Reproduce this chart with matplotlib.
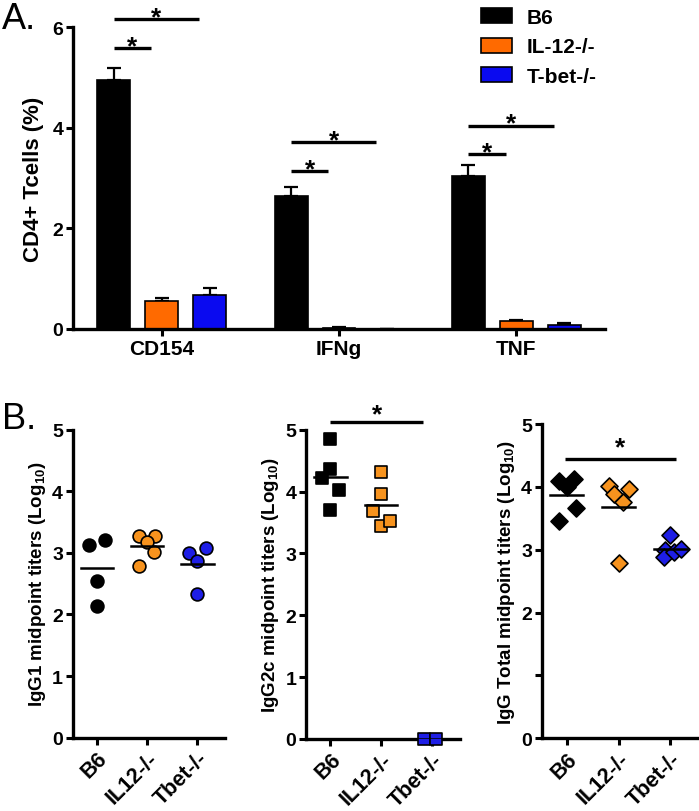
import numpy as np
import matplotlib
matplotlib.use("Agg")
import matplotlib.pyplot as plt
from matplotlib.patches import Patch

plt.rcParams['font.family'] = ['Liberation Sans', 'DejaVu Sans']
plt.rcParams['font.weight'] = 'bold'
plt.rcParams['mathtext.fontset'] = 'custom'
plt.rcParams['mathtext.rm'] = 'Liberation Sans:bold'
plt.rcParams['mathtext.default'] = 'rm'

# ---- Panel A data ----
groups = ['B6', 'IL-12-/-', 'T-bet-/-']
cytokines = ['CD154', 'IFNg', 'TNF']
bar_means = {
    'B6':       [4.95, 2.64, 3.03],
    'IL-12-/-': [0.56, 0.02, 0.15],
    'T-bet-/-': [0.68, 0.00, 0.07],
}
bar_sem = {
    'B6':       [0.24, 0.18, 0.22],
    'IL-12-/-': [0.05, 0.02, 0.02],
    'T-bet-/-': [0.14, 0.00, 0.05],
}
# significance bars: (cytokine index, from group, to group, height)
sig_a = [(0, 0, 1, 5.58), (0, 0, 2, 6.16),
         (1, 0, 1, 3.13), (1, 0, 2, 3.71),
         (2, 0, 1, 3.47), (2, 0, 2, 4.04)]
yticks_a = [0, 2, 4, 6]

# ---- Panel B data ----
strains = ['B6', 'IL12-/-', 'Tbet-/-']
yticks_b = [0, 1, 2, 3, 4, 5]
igg1 = [[3.12, 3.21, 2.55, 2.14],
        [3.28, 3.28, 3.18, 3.02, 2.79],
        [3.00, 3.08, 2.87, 2.34]]
igg1_dx = [[-0.15, 0.17, 0.0, 0.0],
           [-0.17, 0.15, 0.0, 0.14, -0.17],
           [-0.17, 0.17, 0.0, 0.0]]
igg2c = [[4.85, 4.22, 4.36, 4.02, 3.70],
         [4.31, 3.96, 3.69, 3.45, 3.52],
         [0.0, 0.0]]
igg2c_dx = [[0.0, -0.16, 0.0, 0.16, 0.0],
            [0.0, 0.0, -0.17, 0.0, 0.17],
            [-0.15, 0.08]]
iggt = [[4.09, 4.13, 4.00, 3.66, 3.46],
        [4.01, 3.88, 3.97, 3.76, 2.79],
        [3.24, 3.00, 2.88, 2.96, 3.01]]
iggt_dx = [[-0.14, 0.15, 0.0, 0.18, -0.15],
           [-0.18, -0.08, 0.2, 0.08, 0.0],
           [0.0, -0.1, -0.13, 0.07, 0.2]]

col_a = {'B6': 'black', 'IL-12-/-': '#FF6A00', 'T-bet-/-': '#0A0AF0'}
col_b = ['black', '#F7931E', '#1E1EE6']

fig = plt.figure(figsize=(6.99, 8.12), dpi=100)


def style_axis(ax):
    for s in ['top', 'right']:
        ax.spines[s].set_visible(False)
    for s in ['left', 'bottom']:
        ax.spines[s].set_linewidth(2.4)
    ax.tick_params(width=2.2, length=5, pad=2)


def star(ax, x, h, dy):
    ax.annotate('*', (x, h), xytext=(0, dy), textcoords='offset points',
                ha='center', va='baseline', fontsize=19, fontweight='bold',
                annotation_clip=False)


# ---------------- Panel A ----------------
axA = fig.add_axes([0.1044, 0.5936, 0.7611, 0.3719])
xg = np.arange(len(cytokines))
offs = [-0.27, 0.0, 0.27]
w = 0.185
for i, g in enumerate(groups):
    axA.bar(xg + offs[i], bar_means[g], width=w, color=col_a[g],
            edgecolor='black', linewidth=1.2, zorder=2)
    axA.errorbar(xg + offs[i], bar_means[g],
                 yerr=[np.zeros(3), bar_sem[g]], fmt='none',
                 ecolor='black', elinewidth=1.6, capsize=5, capthick=1.6,
                 zorder=1)
for ci, g1, g2, h in sig_a:
    x1 = ci + offs[g1]
    x2 = ci + offs[g2] - 0.06
    axA.plot([x1, x2], [h, h], color='black', lw=2.4, clip_on=False,
             solid_capstyle='butt')
    star(axA, (x1 + x2) / 2, h, -3.5)
axA.set_xlim(-0.5, 2.5)
axA.set_ylim(0, 6)
axA.set_yticks(yticks_a, labels=[str(t) for t in yticks_a],
               fontsize=14, fontweight='bold')
axA.set_xticks(xg, labels=cytokines, fontsize=15, fontweight='bold')
style_axis(axA)
axA.set_ylabel('CD4+ Tcells (%)', fontsize=16, fontweight='bold', labelpad=6)
handles = [Patch(facecolor=col_a[g], edgecolor='black', linewidth=1.2)
           for g in groups]
fig.legend(handles, groups, loc='upper left', bbox_to_anchor=(0.661, 1.012),
           frameon=False, prop={'size': 15, 'weight': 'bold'},
           handlelength=1.5, handleheight=0.75, labelspacing=0.5,
           handletextpad=0.7)
fig.text(0.003, 0.998, 'A.', fontsize=26, fontweight='normal', va='top')

# ---------------- Panel B ----------------
def dot_panel(rect, data, dx, marker, ms, ylabel, sig=None, blank_one=False):
    ax = fig.add_axes(rect)
    for i, (vals, d) in enumerate(zip(data, dx)):
        ax.scatter(np.full(len(vals), i) + np.array(d), vals, marker=marker,
                   s=ms, color=col_b[i], edgecolor='black', linewidth=1.2,
                   zorder=3, clip_on=False)
        m = np.mean(vals)
        ax.plot([i - 0.32, i + 0.32], [m, m], color='black', lw=1.8, zorder=4)
    ax.set_xlim(-0.48, 2.55)
    ax.set_ylim(0, 5)
    ax.set_xticks(range(3), labels=strains, rotation=45, ha='right',
                  rotation_mode='anchor', fontsize=15.5, fontweight='bold')
    ylabs = [str(t) for t in yticks_b]
    if blank_one:
        ylabs[1] = ''
    ax.set_yticks(yticks_b, labels=ylabs, fontsize=14, fontweight='bold')
    style_axis(ax)
    ax.set_ylabel(ylabel, fontsize=13.5, fontweight='bold', labelpad=3)
    if sig is not None:
        x1, x2, h, dy = sig
        ax.plot([x1, x2], [h, h], color='black', lw=2.4, clip_on=False,
                solid_capstyle='butt')
        star(ax, (x1 + x2) / 2, h, dy)
    return ax


dot_panel([0.104, 0.0903, 0.218, 0.3793], igg1, igg1_dx, 'o', 85,
          r'IgG1 midpoint titers (Log$_{10}$)')
dot_panel([0.4378, 0.0887, 0.2202, 0.3809], igg2c, igg2c_dx, 's', 80,
          r'IgG2c midpoint titers (Log$_{10}$)', sig=(0.0, 1.82, 5.13, 0.5))
dot_panel([0.775, 0.0895, 0.225, 0.3871], iggt, iggt_dx, 'D', 75,
          r'IgG Total midpoint titers (Log$_{10}$)',
          sig=(-0.03, 2.1, 4.44, 3.5), blank_one=True)
fig.text(0.003, 0.505, 'B.', fontsize=26, fontweight='normal', va='top')

fig.savefig('out.png', dpi=100)
